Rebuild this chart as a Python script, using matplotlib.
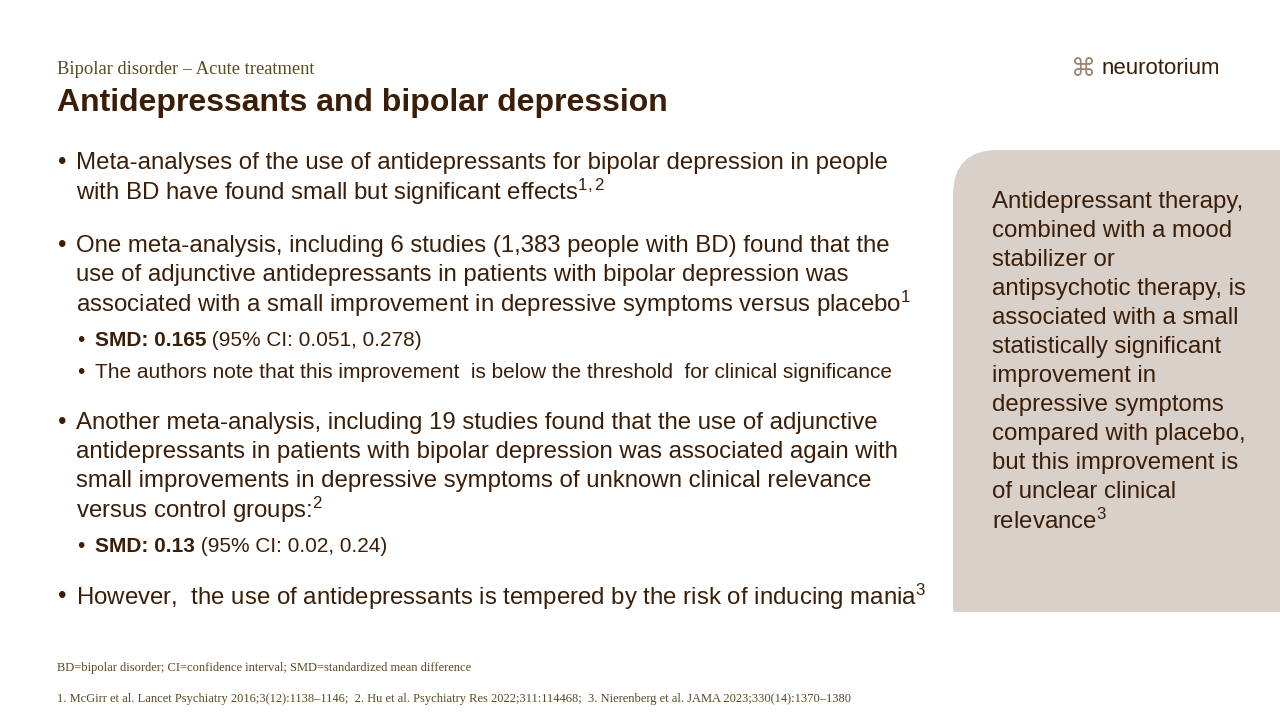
import matplotlib
matplotlib.use('Agg')
import matplotlib.pyplot as plt
from matplotlib.patches import FancyBboxPatch, Rectangle

plt.rcParams['font.family'] = ['Liberation Sans', 'DejaVu Sans']
plt.rcParams['mathtext.fontset'] = 'custom'
plt.rcParams['mathtext.rm'] = 'Liberation Sans'
plt.rcParams['mathtext.it'] = 'Liberation Sans'

DARK = '#3b1e08'
OLIVE = '#5a4a22'

subtitle = 'Bipolar disorder – Acute treatment'
title = 'Antidepressants and bipolar depression'

# (level, y, bold part, text)
bullets = [
    (0, 163, '', 'Meta-analyses of the use of antidepressants for bipolar depression in people'),
    (None, 192, '', 'with BD have found small but significant effects$^{1,2}$'),
    (0, 246, '', 'One meta-analysis, including 6 studies (1,383 people with BD) found that the'),
    (None, 275, '', 'use of adjunctive antidepressants in patients with bipolar depression was'),
    (None, 304, '', 'associated with a small improvement in depressive symptoms versus placebo$^{1}$'),
    (1, 340, 'SMD: 0.165', ' (95% CI: 0.051, 0.278)'),
    (1, 372, '', 'The authors note that this improvement  is below the threshold  for clinical significance'),
    (0, 423, '', 'Another meta-analysis, including 19 studies found that the use of adjunctive'),
    (None, 452, '', 'antidepressants in patients with bipolar depression was associated again with'),
    (None, 481, '', 'small improvements in depressive symptoms of unknown clinical relevance'),
    (None, 510, '', 'versus control groups:$^{2}$'),
    (1, 546, 'SMD: 0.13', ' (95% CI: 0.02, 0.24)'),
    (0, 597, '', 'However,  the use of antidepressants is tempered by the risk of inducing mania$^{3}$'),
]

panel_lines = ['Antidepressant therapy,', 'combined with a mood', 'stabilizer or',
               'antipsychotic therapy, is', 'associated with a small',
               'statistically significant', 'improvement in', 'depressive symptoms',
               'compared with placebo,', 'but this improvement is', 'of unclear clinical',
               'relevance$^{3}$']

abbrev = 'BD=bipolar disorder; CI=confidence interval; SMD=standardized mean difference'
refs = ('1. McGirr et al. Lancet Psychiatry 2016;3(12):1138–1146;  2. Hu et al. Psychiatry Res 2022;311:114468;  '
        '3. Nierenberg et al. JAMA 2023;330(14):1370–1380')

fig = plt.figure(figsize=(12.8, 7.2), dpi=100)
ax = fig.add_axes([0, 0, 1, 1])
ax.set_xlim(0, 1280)
ax.set_ylim(720, 0)
ax.axis('off')

# right panel with rounded top-left corner
ax.add_patch(FancyBboxPatch((953, 150), 400, 500, boxstyle='round,pad=0,rounding_size=45',
                            fc='#d9d0ca', ec='none'))
ax.add_patch(Rectangle((953, 612), 400, 120, fc='white', ec='none'))

ax.text(57, 70, subtitle, fontsize=13.3, family='Liberation Serif', color=OLIVE, va='center')
ax.text(57, 103, title, fontsize=23, weight='bold', color=DARK, va='center')
ax.text(1102, 69, 'neurotorium', fontsize=16, color=DARK, va='center')
ax.text(1084, 69, '⌘', fontsize=18, color='#a08470', va='center', ha='center', family='DejaVu Sans')

for lvl, y, b, s in bullets:
    if lvl == 0:
        ax.text(58, y, '•', fontsize=17.3, color=DARK, va='center')
        ax.text(76, y, s, fontsize=17.3, color=DARK, va='center')
    elif lvl == 1:
        ax.text(77, y, '•', fontsize=15, color=DARK, va='center')
        if b:
            t = ax.text(95, y, b, fontsize=15, weight='bold', color=DARK, va='center')
            ax.annotate(s, xy=(1, 0.5), xycoords=t, fontsize=15, color=DARK, va='center')
        else:
            ax.text(95, y, s, fontsize=15, color=DARK, va='center')
    else:
        ax.text(76, y, s, fontsize=17.3, color=DARK, va='center')

for i, s in enumerate(panel_lines):
    ax.text(992, 202 + i * 29, s, fontsize=17.3, color=DARK, va='center')

ax.text(57, 668, abbrev, fontsize=9, family='Liberation Serif', color=OLIVE, va='center')
ax.text(57, 699, refs, fontsize=9, family='Liberation Serif', color=OLIVE, va='center')

fig.savefig('out.png', dpi=100)
